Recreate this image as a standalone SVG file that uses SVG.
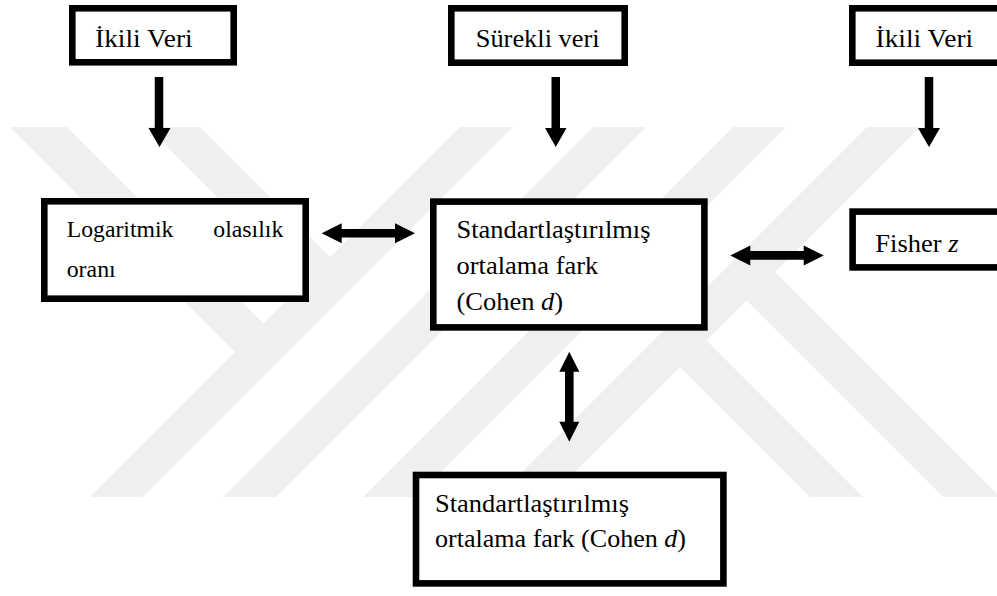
<svg xmlns="http://www.w3.org/2000/svg" width="997" height="596" viewBox="0 0 997 596">
<style>
.box{fill:#fff;stroke:#000;stroke-width:6.6}
.wm{fill:#efefef}
.arr{fill:#000}
</style>
<rect x="0" y="0" width="997" height="596" fill="#fff"/>
<g id="watermark">
<polygon class="wm" points="460,127 513,127 143,497 90,497"/>
<polygon class="wm" points="593,127 646,127 276,497 223,497"/>
<polygon class="wm" points="733,127 786,127 416,497 363,497"/>
<polygon class="wm" points="867,127 920,127 550,497 497,497"/>
<polygon class="wm" points="10,127 67,127 263.5,323.5 235,352"/>
<polygon class="wm" points="147,127 200,127 330,257 303.5,283.5"/>
<polygon class="wm" points="863,497 810,497 680,367 706.5,340.5"/>
<polygon class="wm" points="1000,497 943,497 746.5,300.5 775,272"/>
</g>
<g id="connectors">
<path class="arr" d="M154.75,77 H163.25 V128 H170.5 L159.5,147 L148.5,128 H154.75 Z"/>
<path class="arr" d="M551.5,77 H560 V128 H566.5 L555.75,147 L545,128 H551.5 Z"/>
<path class="arr" d="M924.75,77 H933.25 V128 H940 L929,147 L918,128 H924.75 Z"/>
<path class="arr" d="M321.7,233.3 L341.7,223.3 V229 H395 V223.3 L415,233.3 L395,243.3 V237.6 H341.7 V243.3 Z"/>
<path class="arr" d="M730.3,255.4 L750.3,245.4 V251.1 H803.7 V245.4 L823.7,255.4 L803.7,265.4 V259.7 H750.3 V265.4 Z"/>
<path class="arr" d="M569.3,351.7 L579.3,371.7 H573.6 V421.7 H579.3 L569.3,441.7 L559.3,421.7 H565 V371.7 H559.3 Z"/>
</g>
<g font-family="Liberation Serif, serif" font-size="25.5" fill="#000">
<g id="n-ikili-left">
<rect class="box" x="72.3" y="8.3" width="161.4" height="54"/>
<text x="95" y="47" textLength="97.7" lengthAdjust="spacingAndGlyphs">İkili Veri</text>
</g>
<g id="n-surekli">
<rect class="box" x="451.3" y="8.3" width="173.4" height="54.4"/>
<text x="475.7" y="46.5" textLength="124" lengthAdjust="spacingAndGlyphs">Sürekli veri</text>
</g>
<g id="n-ikili-right">
<rect class="box" x="852.3" y="8.3" width="200" height="54.4"/>
<text x="875.5" y="47" textLength="97.7" lengthAdjust="spacingAndGlyphs">İkili Veri</text>
</g>
<g id="n-logaritmik" font-size="23.5">
<rect class="box" x="44.3" y="201.3" width="261.4" height="97.4"/>
<text x="66.7" y="236.5" textLength="106.7" lengthAdjust="spacingAndGlyphs">Logaritmik</text>
<text x="213.3" y="236.5" textLength="70" lengthAdjust="spacingAndGlyphs">olasılık</text>
<text x="66.7" y="277" textLength="49" lengthAdjust="spacingAndGlyphs">oranı</text>
</g>
<g id="n-smd">
<rect class="box" x="433.3" y="201.6" width="271.1" height="125.8"/>
<text x="456.5" y="238" textLength="194" lengthAdjust="spacingAndGlyphs">Standartlaştırılmış</text>
<text x="456.5" y="274" textLength="141.8" lengthAdjust="spacingAndGlyphs">ortalama fark</text>
<text x="456.5" y="310" textLength="106.6" lengthAdjust="spacingAndGlyphs">(Cohen <tspan font-style="italic">d</tspan>)</text>
</g>
<g id="n-fisher">
<rect class="box" x="852.6" y="211.6" width="200" height="55.8"/>
<text x="875.3" y="252" textLength="83.2" lengthAdjust="spacingAndGlyphs">Fisher <tspan font-style="italic">z</tspan></text>
</g>
<g id="n-smd-bottom">
<rect class="box" x="416" y="475" width="307.4" height="108.4"/>
<text x="435" y="512" textLength="194" lengthAdjust="spacingAndGlyphs">Standartlaştırılmış</text>
<text x="435" y="547" textLength="251" lengthAdjust="spacingAndGlyphs">ortalama fark (Cohen <tspan font-style="italic">d</tspan>)</text>
</g>
</g>
</svg>
